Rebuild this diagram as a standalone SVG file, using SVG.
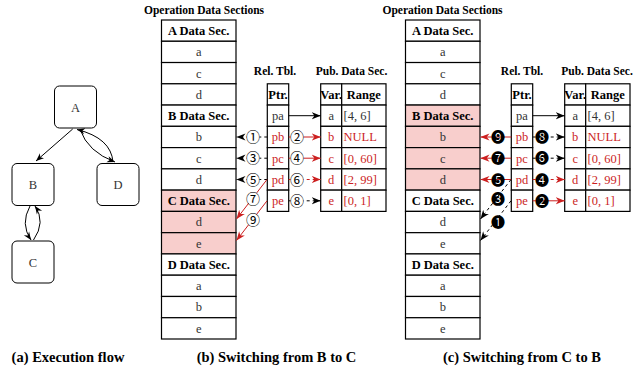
<svg xmlns="http://www.w3.org/2000/svg" width="634" height="373" viewBox="0 0 634 373">
<defs>
<style>
.cell{fill:#fff;stroke:#000;stroke-width:1.2}
.pink{fill:#f8cecc}
.node{fill:#fff;stroke:#000;stroke-width:1}
.t{font-family:"Liberation Serif","Times New Roman",serif;font-size:12.5px;fill:#333;text-anchor:middle}
.h{font-weight:bold;fill:#000}
.red{fill:#cc1f1f}
.l{text-anchor:start}
.title{font-family:"Liberation Serif",serif;font-size:11.5px;font-weight:bold;text-anchor:middle;fill:#000}
.cap{font-family:"Liberation Serif",serif;font-size:14.5px;font-weight:bold;text-anchor:middle;fill:#000}
.num{font-family:"Noto Sans CJK JP","DejaVu Sans",sans-serif;font-size:14px;text-anchor:middle;fill:#000}
.bg{fill:#fff}
.e{fill:none;stroke:#000;stroke-width:1}
.k{fill:none;stroke:#000;stroke-width:1}
.rd{fill:none;stroke:#cc1f1f;stroke-width:1}
.dash{stroke-dasharray:3,3}
</style>
<marker id="ak" viewBox="0 0 10 10" refX="10" refY="5" markerWidth="9" markerHeight="9" markerUnits="userSpaceOnUse" orient="auto"><path d="M0,1 L10,5 L0,9 L3,5 z" fill="#000"/></marker>
<marker id="ar" viewBox="0 0 10 10" refX="10" refY="5" markerWidth="9" markerHeight="9" markerUnits="userSpaceOnUse" orient="auto"><path d="M0,1 L10,5 L0,9 L3,5 z" fill="#cc1f1f"/></marker>
<marker id="ag" viewBox="0 0 10 10" refX="10" refY="5" markerWidth="8" markerHeight="8" markerUnits="userSpaceOnUse" orient="auto"><path d="M0,1 L10,5 L0,9 L3,5 z" fill="#000"/></marker>
</defs>
<rect width="634" height="373" fill="#fff"/>

<!-- (a) Execution flow -->
<g id="graph-edges">
<path class="e" d="M72.7,129 L36,161" marker-end="url(#ag)"/>
<path class="e" d="M80,129.5 Q88,152 115,162" marker-end="url(#ag)"/>
<path class="e" d="M113,162 Q111,138 77,129.5" marker-end="url(#ag)"/>
<path class="e" d="M30,206 Q20,224 31,240" marker-end="url(#ag)"/>
<path class="e" d="M33.5,240 Q46,222 35,206" marker-end="url(#ag)"/>
</g>
<g id="node-A"><rect class="node" x="54.5" y="86" width="42" height="42" rx="5"/><text class="t" x="75.5" y="111.5">A</text></g>
<g id="node-B"><rect class="node" x="12" y="163.5" width="42" height="42" rx="5"/><text class="t" x="33" y="189">B</text></g>
<g id="node-D"><rect class="node" x="97" y="163.5" width="42" height="42" rx="5"/><text class="t" x="118" y="189">D</text></g>
<g id="node-C"><rect class="node" x="12" y="241" width="42" height="42" rx="5"/><text class="t" x="33" y="266.5">C</text></g>
<text class="cap" x="68" y="362">(a) Execution flow</text>

<!-- (b) Switching from B to C -->
<g id="b-ods">
<text class="title" x="204" y="13.5">Operation Data Sections</text>
<rect class="cell" x="161.5" y="20" width="74.5" height="21.27"/>
<rect class="cell" x="161.5" y="41.27" width="74.5" height="21.27"/>
<rect class="cell" x="161.5" y="62.53" width="74.5" height="21.27"/>
<rect class="cell" x="161.5" y="83.8" width="74.5" height="21.27"/>
<rect class="cell" x="161.5" y="105.07" width="74.5" height="21.27"/>
<rect class="cell" x="161.5" y="126.33" width="74.5" height="21.27"/>
<rect class="cell" x="161.5" y="147.6" width="74.5" height="21.27"/>
<rect class="cell" x="161.5" y="168.87" width="74.5" height="21.27"/>
<rect class="cell pink" x="161.5" y="190.13" width="74.5" height="21.27"/>
<rect class="cell pink" x="161.5" y="211.4" width="74.5" height="21.27"/>
<rect class="cell pink" x="161.5" y="232.67" width="74.5" height="21.27"/>
<rect class="cell" x="161.5" y="253.93" width="74.5" height="21.27"/>
<rect class="cell" x="161.5" y="275.2" width="74.5" height="21.27"/>
<rect class="cell" x="161.5" y="296.47" width="74.5" height="21.27"/>
<rect class="cell" x="161.5" y="317.73" width="74.5" height="21.27"/>
<text class="t h" x="198.75" y="35">A Data Sec.</text>
<text class="t" x="198.75" y="56.2">a</text>
<text class="t" x="198.75" y="77.5">c</text>
<text class="t" x="198.75" y="98.7">d</text>
<text class="t h" x="198.75" y="120">B Data Sec.</text>
<text class="t" x="198.75" y="141.3">b</text>
<text class="t" x="198.75" y="162.5">c</text>
<text class="t" x="198.75" y="183.8">d</text>
<text class="t h" x="198.75" y="205.1">C Data Sec.</text>
<text class="t" x="198.75" y="226.3">d</text>
<text class="t" x="198.75" y="247.6">e</text>
<text class="t h" x="198.75" y="268.9">D Data Sec.</text>
<text class="t" x="198.75" y="290.1">a</text>
<text class="t" x="198.75" y="311.4">b</text>
<text class="t" x="198.75" y="332.7">e</text>
</g>
<g id="b-rel">
<text class="title" x="275" y="75">Rel. Tbl.</text>
<rect class="cell" x="267.3" y="83.8" width="21.4" height="21.27"/>
<rect class="cell" x="267.3" y="105.07" width="21.4" height="21.27"/>
<rect class="cell" x="267.3" y="126.33" width="21.4" height="21.27"/>
<rect class="cell" x="267.3" y="147.6" width="21.4" height="21.27"/>
<rect class="cell" x="267.3" y="168.87" width="21.4" height="21.27"/>
<rect class="cell" x="267.3" y="190.13" width="21.4" height="21.27"/>
<text class="t h" x="278" y="98.7">Ptr.</text>
<text class="t" x="278" y="120">pa</text>
<text class="t red" x="278" y="141.3">pb</text>
<text class="t red" x="278" y="162.5">pc</text>
<text class="t red" x="278" y="183.8">pd</text>
<text class="t red" x="278" y="205.1">pe</text>
</g>
<g id="b-pub">
<text class="title" x="351.5" y="75">Pub. Data Sec.</text>
<rect class="cell" x="320.7" y="83.8" width="21" height="21.27"/>
<rect class="cell" x="320.7" y="105.07" width="21" height="21.27"/>
<rect class="cell" x="320.7" y="126.33" width="21" height="21.27"/>
<rect class="cell" x="320.7" y="147.6" width="21" height="21.27"/>
<rect class="cell" x="320.7" y="168.87" width="21" height="21.27"/>
<rect class="cell" x="320.7" y="190.13" width="21" height="21.27"/>
<rect class="cell" x="341.7" y="83.8" width="44.3" height="21.27"/>
<rect class="cell" x="341.7" y="105.07" width="44.3" height="21.27"/>
<rect class="cell" x="341.7" y="126.33" width="44.3" height="21.27"/>
<rect class="cell" x="341.7" y="147.6" width="44.3" height="21.27"/>
<rect class="cell" x="341.7" y="168.87" width="44.3" height="21.27"/>
<rect class="cell" x="341.7" y="190.13" width="44.3" height="21.27"/>
<text class="t h" x="331.2" y="98.7">Var.</text>
<text class="t h" x="363.85" y="98.7">Range</text>
<text class="t" x="331.2" y="120">a</text>
<text class="t red" x="331.2" y="141.3">b</text>
<text class="t red" x="331.2" y="162.5">c</text>
<text class="t red" x="331.2" y="183.8">d</text>
<text class="t red" x="331.2" y="205.1">e</text>
<text class="t l" x="343.5" y="120">[4, 6]</text>
<text class="t l red" x="343.5" y="141.3">NULL</text>
<text class="t l red" x="343.5" y="162.5">[0, 60]</text>
<text class="t l red" x="343.5" y="183.8">[2, 99]</text>
<text class="t l red" x="343.5" y="205.1">[0, 1]</text>
</g>
<g id="b-connectors">
<path class="k" d="M288.7,115.7 H320.7" marker-end="url(#ak)"/>
<path class="k dash" d="M267.3,137 H236.5" marker-end="url(#ak)"/>
<path class="rd" d="M288.7,137 H320.7" marker-end="url(#ar)"/>
<path class="k dash" d="M267.3,158.2 H236.5" marker-end="url(#ak)"/>
<path class="rd" d="M288.7,158.2 H320.7" marker-end="url(#ar)"/>
<path class="k dash" d="M267.3,179.5 H236.5" marker-end="url(#ak)"/>
<path class="rd dash" d="M288.7,179.5 H320.7" marker-end="url(#ar)"/>
<path class="rd" d="M267,179.5 L236.5,219" marker-end="url(#ar)"/>
<path class="k dash" d="M288.7,200.8 H320.7" marker-end="url(#ak)"/>
<path class="rd" d="M267,200.8 L236.5,240.5" marker-end="url(#ar)"/>
<circle class="bg" cx="253" cy="137" r="6.5"/><text class="num" x="253" y="142">①</text>
<circle class="bg" cx="297" cy="137" r="6.5"/><text class="num" x="297" y="142">②</text>
<circle class="bg" cx="253" cy="158.2" r="6.5"/><text class="num" x="253" y="163.2">③</text>
<circle class="bg" cx="297" cy="158.2" r="6.5"/><text class="num" x="297" y="163.2">④</text>
<circle class="bg" cx="253" cy="179.5" r="6.5"/><text class="num" x="253" y="184.5">⑤</text>
<circle class="bg" cx="297" cy="179.5" r="6.5"/><text class="num" x="297" y="184.5">⑥</text>
<circle class="bg" cx="253" cy="198.5" r="6.5"/><text class="num" x="253" y="203.5">⑦</text>
<circle class="bg" cx="297" cy="200.8" r="6.5"/><text class="num" x="297" y="205.8">⑧</text>
<circle class="bg" cx="253" cy="220" r="6.5"/><text class="num" x="253" y="225">⑨</text>
</g>
<text class="cap" x="276.5" y="362">(b) Switching from B to C</text>

<!-- (c) Switching from C to B -->
<g id="c-ods">
<text class="title" x="442.5" y="13.5">Operation Data Sections</text>
<rect class="cell" x="405.5" y="20" width="74.5" height="21.27"/>
<rect class="cell" x="405.5" y="41.27" width="74.5" height="21.27"/>
<rect class="cell" x="405.5" y="62.53" width="74.5" height="21.27"/>
<rect class="cell" x="405.5" y="83.8" width="74.5" height="21.27"/>
<rect class="cell pink" x="405.5" y="105.07" width="74.5" height="21.27"/>
<rect class="cell pink" x="405.5" y="126.33" width="74.5" height="21.27"/>
<rect class="cell pink" x="405.5" y="147.6" width="74.5" height="21.27"/>
<rect class="cell pink" x="405.5" y="168.87" width="74.5" height="21.27"/>
<rect class="cell" x="405.5" y="190.13" width="74.5" height="21.27"/>
<rect class="cell" x="405.5" y="211.4" width="74.5" height="21.27"/>
<rect class="cell" x="405.5" y="232.67" width="74.5" height="21.27"/>
<rect class="cell" x="405.5" y="253.93" width="74.5" height="21.27"/>
<rect class="cell" x="405.5" y="275.2" width="74.5" height="21.27"/>
<rect class="cell" x="405.5" y="296.47" width="74.5" height="21.27"/>
<rect class="cell" x="405.5" y="317.73" width="74.5" height="21.27"/>
<text class="t h" x="442.75" y="35">A Data Sec.</text>
<text class="t" x="442.75" y="56.2">a</text>
<text class="t" x="442.75" y="77.5">c</text>
<text class="t" x="442.75" y="98.7">d</text>
<text class="t h" x="442.75" y="120">B Data Sec.</text>
<text class="t" x="442.75" y="141.3">b</text>
<text class="t" x="442.75" y="162.5">c</text>
<text class="t" x="442.75" y="183.8">d</text>
<text class="t h" x="442.75" y="205.1">C Data Sec.</text>
<text class="t" x="442.75" y="226.3">d</text>
<text class="t" x="442.75" y="247.6">e</text>
<text class="t h" x="442.75" y="268.9">D Data Sec.</text>
<text class="t" x="442.75" y="290.1">a</text>
<text class="t" x="442.75" y="311.4">b</text>
<text class="t" x="442.75" y="332.7">e</text>
</g>
<g id="c-rel">
<text class="title" x="522" y="75">Rel. Tbl.</text>
<rect class="cell" x="511.3" y="83.8" width="21.4" height="21.27"/>
<rect class="cell" x="511.3" y="105.07" width="21.4" height="21.27"/>
<rect class="cell" x="511.3" y="126.33" width="21.4" height="21.27"/>
<rect class="cell" x="511.3" y="147.6" width="21.4" height="21.27"/>
<rect class="cell" x="511.3" y="168.87" width="21.4" height="21.27"/>
<rect class="cell" x="511.3" y="190.13" width="21.4" height="21.27"/>
<text class="t h" x="522" y="98.7">Ptr.</text>
<text class="t" x="522" y="120">pa</text>
<text class="t red" x="522" y="141.3">pb</text>
<text class="t red" x="522" y="162.5">pc</text>
<text class="t red" x="522" y="183.8">pd</text>
<text class="t red" x="522" y="205.1">pe</text>
</g>
<g id="c-pub">
<text class="title" x="597" y="75">Pub. Data Sec.</text>
<rect class="cell" x="564.7" y="83.8" width="21" height="21.27"/>
<rect class="cell" x="564.7" y="105.07" width="21" height="21.27"/>
<rect class="cell" x="564.7" y="126.33" width="21" height="21.27"/>
<rect class="cell" x="564.7" y="147.6" width="21" height="21.27"/>
<rect class="cell" x="564.7" y="168.87" width="21" height="21.27"/>
<rect class="cell" x="564.7" y="190.13" width="21" height="21.27"/>
<rect class="cell" x="585.7" y="83.8" width="44.3" height="21.27"/>
<rect class="cell" x="585.7" y="105.07" width="44.3" height="21.27"/>
<rect class="cell" x="585.7" y="126.33" width="44.3" height="21.27"/>
<rect class="cell" x="585.7" y="147.6" width="44.3" height="21.27"/>
<rect class="cell" x="585.7" y="168.87" width="44.3" height="21.27"/>
<rect class="cell" x="585.7" y="190.13" width="44.3" height="21.27"/>
<text class="t h" x="575.2" y="98.7">Var.</text>
<text class="t h" x="607.85" y="98.7">Range</text>
<text class="t" x="575.2" y="120">a</text>
<text class="t red" x="575.2" y="141.3">b</text>
<text class="t red" x="575.2" y="162.5">c</text>
<text class="t red" x="575.2" y="183.8">d</text>
<text class="t red" x="575.2" y="205.1">e</text>
<text class="t l" x="587.5" y="120">[4, 6]</text>
<text class="t l red" x="587.5" y="141.3">NULL</text>
<text class="t l red" x="587.5" y="162.5">[0, 60]</text>
<text class="t l red" x="587.5" y="183.8">[2, 99]</text>
<text class="t l red" x="587.5" y="205.1">[0, 1]</text>
</g>
<g id="c-connectors">
<path class="k" d="M532.7,115.7 H564.7" marker-end="url(#ak)"/>
<path class="rd" d="M511.3,137 H480.5" marker-end="url(#ar)"/>
<path class="k dash" d="M532.7,137 H564.7" marker-end="url(#ak)"/>
<path class="rd" d="M511.3,158.2 H480.5" marker-end="url(#ar)"/>
<path class="k dash" d="M532.7,158.2 H564.7" marker-end="url(#ak)"/>
<path class="rd" d="M511.3,179.5 H480.5" marker-end="url(#ar)"/>
<path class="rd dash" d="M532.7,179.5 H564.7" marker-end="url(#ar)"/>
<path class="k dash" d="M511,179.5 L480.5,219" marker-end="url(#ak)"/>
<path class="rd" d="M532.7,200.8 H564.7" marker-end="url(#ar)"/>
<path class="k dash" d="M511,200.8 L480.5,240.5" marker-end="url(#ak)"/>
<text class="num" x="498" y="142">❾</text>
<text class="num" x="542" y="142">❽</text>
<text class="num" x="498" y="163.2">❼</text>
<text class="num" x="542" y="163.2">❻</text>
<text class="num" x="498" y="184.5">❺</text>
<text class="num" x="542" y="184.5">❹</text>
<text class="num" x="498" y="203.5">❸</text>
<text class="num" x="542" y="205.8">❷</text>
<text class="num" x="498" y="227">❶</text>
</g>
<text class="cap" x="522" y="362">(c) Switching from C to B</text>
</svg>
